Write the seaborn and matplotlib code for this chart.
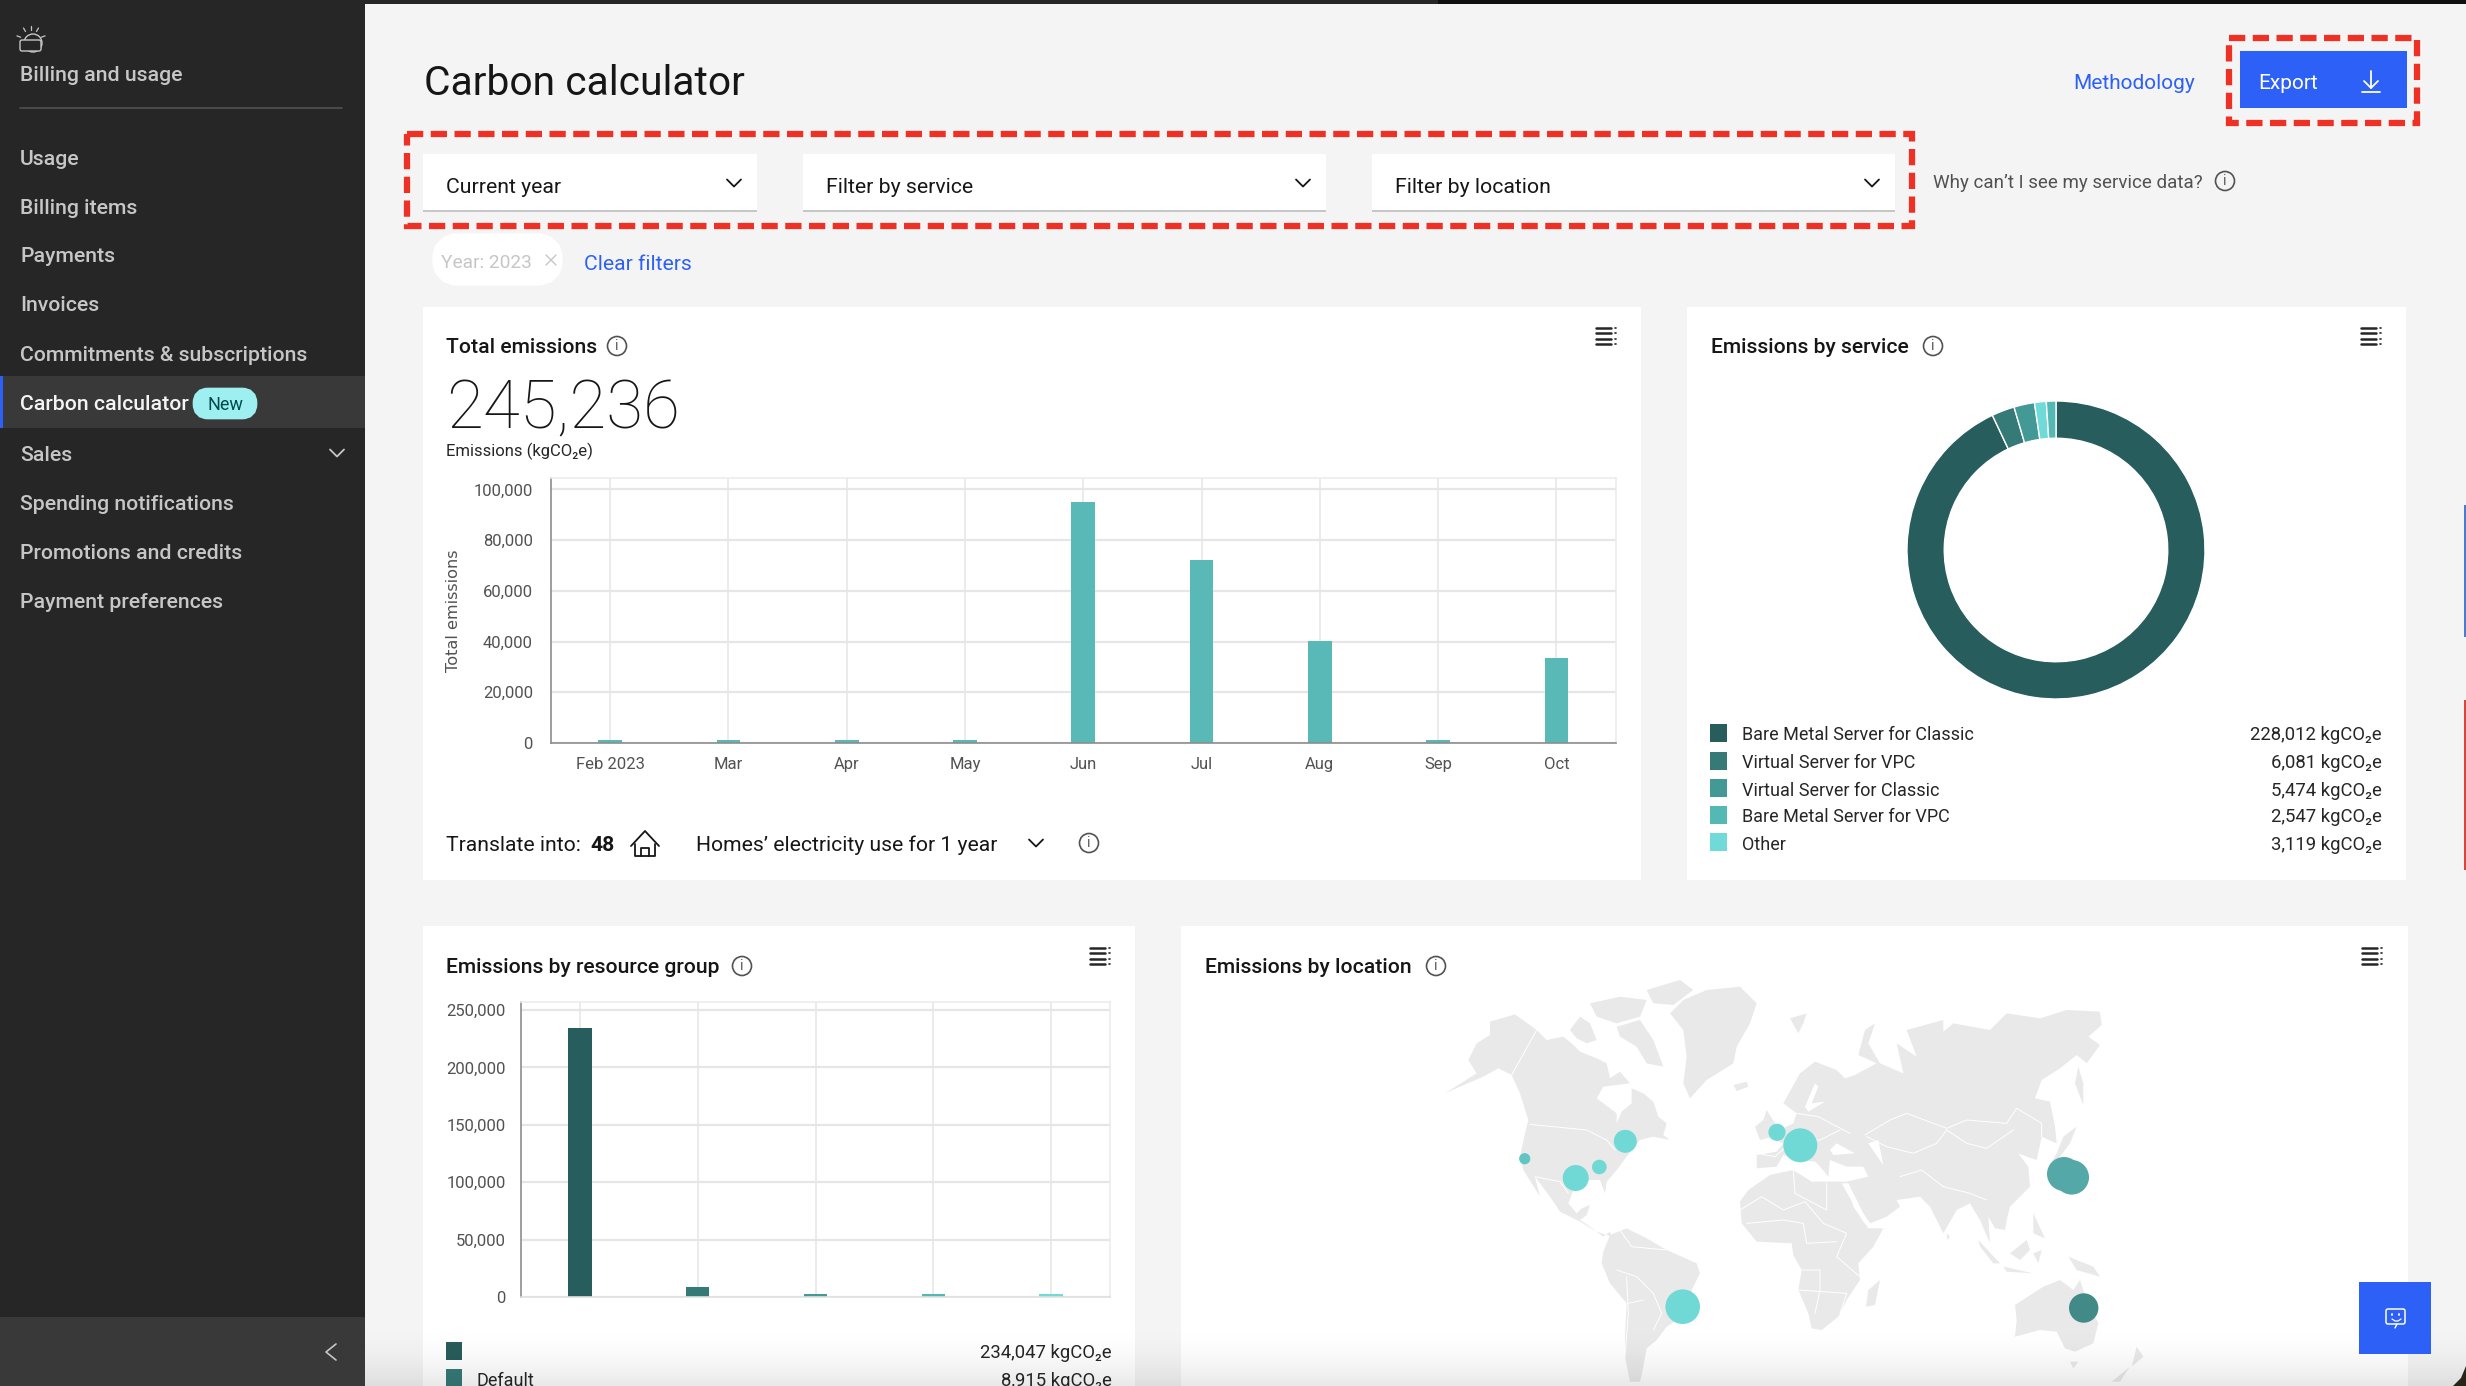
#!/usr/bin/env python
# -*- coding: UTF-8 -*-
# Carbon calculator dashboard screenshot
import numpy as np
import seaborn as sns
import matplotlib.pyplot as plt
from matplotlib.patches import Rectangle, Circle, Polygon, FancyBboxPatch

W, H = 2466, 1386

# ---- data ----
months = ['Feb 2023', 'Mar', 'Apr', 'May', 'Jun', 'Jul', 'Aug', 'Sep', 'Oct']
month_emissions = [1200, 1200, 1200, 1200, 95000, 72250, 40400, 1200, 33500]
month_ticks = [0, 20000, 40000, 60000, 80000, 100000]

services = ['Bare Metal Server for Classic', 'Virtual Server for VPC', 'Virtual Server for Classic',
            'Bare Metal Server for VPC', 'Other']
service_emissions = [228012, 6081, 5474, 2547, 3119]
# donut runs clockwise with Other before Bare Metal for VPC
donut_order = [0, 1, 2, 4, 3]

groups = ['', 'Default', 'group 3', 'group 4', 'group 5']
group_emissions = [234047, 8915, 2300, 2300, 2300]
group_ticks = [0, 50000, 100000, 150000, 200000, 250000]

sidebar_items = ['Usage', 'Billing items', 'Payments', 'Invoices', 'Commitments & subscriptions',
                 'Carbon calculator', 'Sales', 'Spending notifications', 'Promotions and credits',
                 'Payment preferences']
sidebar_y = [157, 206, 254, 303, 353, 402, 453, 502, 551, 600]

# locations: pixel position on the map image, bubble area, colour
loc_x = [1524.7, 1575.7, 1599.3, 1625.3, 1777, 1800.3, 1682.7, 2064, 2071.7, 2083.7]
loc_y = [1158.7, 1178, 1167, 1141.3, 1132.3, 1145.3, 1306.7, 1174, 1177.3, 1308]
loc_r = [5.6, 13, 7.3, 11.5, 8.6, 17, 17.3, 17, 17.3, 14.7]
loc_color = ['#5fc6c3', '#70d9d6', '#70d9d6', '#70d9d6', '#70d9d6', '#70d9d6', '#70d9d6',
             '#54a9a8', '#54a9a8', '#418a88']

# map outlines, 3x crop coordinates
land_west = [
    [(85, 240), (110, 190), (150, 165), (150, 125), (225, 103), (290, 150), (320, 180), (370, 170), (395, 190),
     (420, 215), (470, 235), (500, 250), (510, 295), (540, 275), (570, 310), (490, 320), (470, 355), (530, 400),
     (530, 430), (545, 395), (575, 370), (575, 325), (610, 340), (640, 365), (655, 410), (680, 430), (670, 465),
     (690, 480), (640, 470), (600, 480), (560, 530), (530, 570), (500, 605), (495, 640), (480, 600), (450, 600),
     (400, 630), (385, 670), (410, 700), (425, 685), (450, 675), (440, 705), (420, 720), (450, 740), (490, 770),
     (510, 755), (515, 770), (470, 755), (420, 725), (360, 695), (330, 650), (285, 590), (300, 650), (250, 570),
     (240, 530), (255, 460), (265, 420), (240, 340), (215, 285), (175, 265), (130, 290), (60, 320), (15, 340),
     (110, 280)],
    [(390, 150), (420, 110), (450, 130), (470, 180), (440, 190), (410, 175)],
    [(450, 70), (540, 50), (620, 60), (600, 110), (530, 130), (470, 110)],
    [(620, 30), (720, 0), (760, 30), (700, 75), (640, 70)],
    [(530, 140), (600, 120), (640, 180), (670, 260), (620, 250), (590, 200), (540, 170)],
    [(690, 100), (730, 60), (800, 30), (900, 20), (950, 70), (930, 130), (890, 200), (880, 250), (800, 300),
     (750, 355), (730, 310), (740, 230), (730, 150)],
    [(880, 315), (920, 305), (925, 320), (890, 333)],
    [(1050, 115), (1100, 100), (1090, 130), (1075, 160)],
    [(510, 765), (560, 745), (620, 775), (680, 810), (770, 850), (780, 880), (755, 930), (745, 1000), (680, 1040),
     (650, 1080), (620, 1105), (610, 1160), (600, 1205), (570, 1205), (555, 1130), (555, 1060), (560, 970),
     (510, 910), (485, 850), (490, 815)],
    [(945, 440), (970, 420), (980, 390), (1005, 430), (1000, 470), (960, 480)],
]
land_east = [
    [(50, 565), (50, 525), (110, 515), (130, 490), (105, 480), (120, 450), (160, 430), (170, 400), (130, 370),
     (180, 280), (225, 245), (290, 270), (315, 295), (345, 285), (410, 250), (355, 225), (375, 150), (405, 130),
     (385, 190), (420, 250), (490, 280), (470, 190), (530, 230), (500, 150), (610, 120), (610, 155), (640, 130),
     (750, 150), (800, 100), (900, 115), (980, 90), (1080, 95), (1085, 135), (1045, 170), (1080, 195), (1040, 250),
     (1010, 225), (960, 265), (905, 300), (885, 355), (930, 365), (945, 440), (950, 490), (905, 470), (890, 540),
     (860, 530), (835, 520), (865, 560), (870, 620), (810, 680), (800, 720), (795, 750), (765, 745), (745, 710),
     (750, 790), (720, 720), (690, 670), (650, 690), (610, 760), (570, 680), (540, 650), (470, 660), (480, 680),
     (440, 710), (390, 730), (330, 640), (320, 605), (385, 590), (370, 560), (320, 560), (270, 540), (265, 590),
     (240, 560), (225, 545), (175, 540), (130, 525), (110, 560)],
    [(0, 665), (25, 630), (90, 585), (160, 570), (215, 605), (320, 605), (340, 680), (385, 745), (430, 745),
     (400, 800), (355, 850), (360, 900), (320, 960), (295, 1010), (245, 1050), (215, 1045), (205, 1000), (175, 930),
     (185, 870), (160, 825), (155, 790), (50, 785), (5, 730)],
    [(378, 980), (385, 930), (420, 900), (405, 975)],
    [(620, 760), (630, 770), (622, 780)],
    [(970, 470), (1010, 440), (990, 490), (960, 530), (925, 560), (950, 520)],
    [(1015, 260), (1030, 310), (1030, 375), (1005, 310)],
    [(715, 780), (780, 850), (760, 850), (720, 800)],
    [(790, 860), (880, 880), (800, 875)],
    [(810, 820), (860, 780), (870, 810), (840, 840)],
    [(880, 700), (915, 775), (880, 760)],
    [(985, 830), (1060, 860), (1080, 890), (1010, 870)],
    [(880, 820), (905, 810), (895, 850)],
    [(825, 975), (910, 920), (960, 900), (1000, 930), (1020, 900), (1040, 960), (1075, 1030), (1060, 1090),
     (1005, 1115), (975, 1105), (950, 1055), (900, 1050), (825, 1070), (830, 1020)],
    [(990, 1145), (1015, 1145), (1000, 1165)],
    [(1190, 1100), (1210, 1130), (1175, 1160)],
    [(1170, 1160), (1140, 1205), (1115, 1205)],
]
water_east = [
    [(195, 380), (225, 310), (235, 320), (215, 370), (255, 365), (205, 395)],
    [(270, 510), (290, 490), (345, 520), (280, 525)],
    [(385, 490), (415, 480), (430, 555), (405, 520)],
    [(305, 610), (325, 610), (385, 730), (370, 725)],
]
borders_west = [
    [(270, 433), (440, 450), (500, 480), (525, 510)],
    [(290, 150), (215, 285)],
    [(285, 590), (360, 605), (385, 640)],
    [(560, 890), (565, 1000), (555, 1130)],
    [(530, 870), (590, 890), (640, 940), (665, 1000), (640, 1050)],
    [(610, 960), (565, 970)],
    [(540, 750), (575, 800), (680, 810)],
]
borders_east = [
    [(375, 465), (450, 420), (500, 400), (620, 445), (680, 420), (800, 430), (830, 385), (905, 430), (905, 470)],
    [(620, 450), (680, 490), (740, 505), (820, 450)],
    [(380, 470), (440, 500), (520, 520), (590, 490), (620, 450)],
    [(480, 590), (545, 570), (610, 620), (690, 640), (740, 660)],
    [(160, 570), (165, 640), (260, 690), (260, 610)],
    [(0, 690), (65, 650), (130, 690), (195, 665), (250, 730), (320, 760), (290, 830), (360, 890)],
    [(20, 730), (130, 720), (190, 730), (200, 790), (290, 785)],
    [(175, 930), (320, 940), (300, 1000)],
    [(185, 870), (240, 870), (240, 930), (225, 1000)],
    [(50, 520), (105, 530), (160, 480), (240, 480), (300, 450)],
    [(170, 400), (235, 410), (330, 460)],
]

# ---- colours ----
palette = ['#275d5c', '#367a78', '#429996', '#54b8b5', '#6fdad7']
bar_teal = '#58b9b6'
blue = '#2c60f6'
red = '#ee3124'
dark = '#161616'
gray = '#525252'
card = '#ffffff'

sns.set_theme(style='whitegrid')
plt.rcParams['font.family'] = ['Roboto', 'DejaVu Sans']

fig = plt.figure(figsize=(W / 100, H / 100), dpi=100, facecolor='#f4f4f4')

# background axes in screen pixels, all the page furniture goes here
ui = fig.add_axes([0, 0, 1, 1], zorder=0)
ui.set_xlim(0, W)
ui.set_ylim(H, 0)
ui.axis('off')


def box(x0, y0, x1, y1, color, **kw):
    ui.add_patch(Rectangle((x0, y0), x1 - x0, y1 - y0, facecolor=color, edgecolor='none', **kw))


def put(x, y, s, size=15.2, color=dark, ha='left', weight=400, **kw):
    # y is the visual middle of the line, Roboto sits a little high with va=center
    return ui.text(x, y + 2.5, s, fontsize=size, color=color, ha=ha, va='center', fontweight=weight, **kw)


def line(xs, ys, color=dark, lw=1.3, **kw):
    ui.plot(xs, ys, color=color, lw=lw, solid_capstyle='round', **kw)


def chevron(x, y, color=dark, s=7):
    line([x - s, x, x + s], [y - s / 2, y + s / 2, y - s / 2], color=color)


def info(x, y):
    ui.add_patch(Circle((x, y), 9.5, facecolor='none', edgecolor=gray, lw=1.2))
    put(x, y - 2.5, 'i', size=10, color=gray, ha='center')


def menu(x, y):
    for dy in [-8, -3, 3, 8]:
        line([x - 10, x + 5], [y + dy, y + dy], color='#262626', lw=1.8)
        line([x + 9, x + 10], [y + dy, y + dy], color='#262626', lw=1.2)


def px_axes(x0, y0, x1, y1, zorder=2):
    return fig.add_axes([x0 / W, 1 - y1 / H, (x1 - x0) / W, (y1 - y0) / H], zorder=zorder)


def style_bars(ax, ticks, tick_font=12):
    ax.set_facecolor('none')
    ax.set_axisbelow(True)
    ax.grid(True, axis='y', color='#e6e6e6', lw=1.6)
    ax.grid(True, axis='x', color='#e6e6e6', lw=1.1)
    ax.set_yticks(ticks)
    ax.set_yticklabels([f'{t:,}' for t in ticks])
    ax.tick_params(axis='both', length=0, labelsize=tick_font, labelcolor=gray, pad=10)
    ax.set_xlabel('')
    ax.set_ylabel('')
    for side in ['top', 'right']:
        ax.spines[side].set_color('#ececec')
        ax.spines[side].set_linewidth(1.2)
    for side in ['left', 'bottom']:
        ax.spines[side].set_color('#8d8d8d')
        ax.spines[side].set_linewidth(1.2)


# ---- sidebar ----
box(0, 0, 365, H, '#262626')
box(0, 376, 365, 428, '#393939')
box(0, 376, 3, 428, blue)
box(0, 1317, 365, H, '#393939')
box(0, 0, 1438, 4, '#262626')
box(1438, 0, W, 4, '#0f0f0f')
line([20, 342], [108, 108], color='#525252', lw=1.2)

# weather icon
ui.add_patch(Circle((33, 43), 9, facecolor='none', edgecolor='#c6c6c6', lw=1))
ui.add_patch(FancyBboxPatch((22, 42), 17, 7, boxstyle='round,pad=2', facecolor='#262626', edgecolor='#c6c6c6', lw=1))
for ang in np.radians([200, 240, 270, 300, 340]):
    line([31 + 11 * np.cos(ang), 31 + 15 * np.cos(ang)], [41 + 11 * np.sin(ang), 41 + 15 * np.sin(ang)],
         color='#c6c6c6', lw=0.9)

put(20, 73, 'Billing and usage', size=15.3, color='#c6c6c6', weight=500)
for label, y in zip(sidebar_items, sidebar_y):
    selected = label == 'Carbon calculator'
    put(20, y, label, size=15.3, color='#f4f4f4' if selected else '#c6c6c6', weight=500)
ui.add_patch(FancyBboxPatch((201, 396), 48, 15, boxstyle='round,pad=0,rounding_size=7', facecolor='#9ef0f0',
                            edgecolor='#9ef0f0', lw=12))
put(225, 402, 'New', size=13, color='#00494d', ha='center')
chevron(337, 453, color='#c6c6c6')
line([336, 326, 336], [1344, 1352, 1360], color='#c6c6c6', lw=1.2)

# ---- header ----
put(424, 81, 'Carbon calculator', size=29.3)
put(2073, 81, 'Methodology', size=15, color=blue)
box(2240, 51, 2407, 108, blue)
put(2258, 81, 'Export', size=15, color='white')
line([2371, 2371], [71, 88], color='white')
line([2364, 2371, 2378], [81, 88, 81], color='white')
line([2362, 2380], [92, 92], color='white')

# filters
for x0, x1, label in [(423, 757, 'Current year'), (803, 1326, 'Filter by service'), (1372, 1895, 'Filter by location')]:
    box(x0, 154, x1, 210, card)
    box(x0, 210, x1, 212, '#c6c6c6')
    put(x0 + 23, 185, label, size=15.3)
    chevron(x1 - 23, 183)
put(1933, 181, 'Why can\u2019t I see my service data?', size=13.5, color=gray)
info(2225, 181)
ui.add_patch(Rectangle((407, 134), 1505, 92, facecolor='none', edgecolor=red, lw=4.5, ls=(0, (2.6, 1.2))))
ui.add_patch(Rectangle((2229, 38), 188, 85, facecolor='none', edgecolor=red, lw=4.5, ls=(0, (2.6, 1.2))))

ui.add_patch(FancyBboxPatch((449, 250), 97, 19, boxstyle='round,pad=0,rounding_size=9', facecolor=card,
                            edgecolor=card, lw=24))
put(441, 260, 'Year: 2023', size=13.8, color='#c6c6c6')
line([546, 556], [255, 265], color='#c6c6c6', lw=1)
line([546, 556], [265, 255], color='#c6c6c6', lw=1)
put(584, 262, 'Clear filters', color=blue)

# ---- cards ----
box(423, 307, 1641, 880, card)
box(1687, 307, 2406, 880, card)
box(423, 926, 1135, H, card)
box(1181, 926, 2408, H, card)

for x, y, label, ix, mx in [(446, 345, 'Total emissions', 617, 1606), (1711, 345, 'Emissions by service', 1933, 2371),
                            (446, 965, 'Emissions by resource group', 742, 1100),
                            (1205, 965, 'Emissions by location', 1436, 2372)]:
    put(x, y, label, weight=500)
    info(ix, y + 1)
    menu(mx, y - 9)

# total emissions
put(446, 408, '245,236', size=48.4, weight=250)
put(446, 449, 'Emissions (kgCO\u2082e)', size=12, color='#262626')
put(446, 843, 'Translate into:')
put(590, 843, '48', weight=700)
line([631, 645, 659], [846, 831, 846], color=dark)
line([635, 635, 655, 655], [844, 856, 856, 844], color=dark)
line([641, 641, 649, 649], [856, 848, 848, 856], color=dark)
put(696, 843, 'Homes\u2019 electricity use for 1 year')
chevron(1036, 843)
info(1089, 843)

ax1 = px_axes(551, 478, 1615.5, 743)
sns.barplot(x=months, y=month_emissions, color=bar_teal, width=0.2, saturation=1, linewidth=0, ax=ax1)
ax1.set_xlim(-0.5, 8.5)
ax1.set_ylim(0, 104500)
style_bars(ax1, month_ticks)
ax1.tick_params(axis='y', pad=13)
ui.text(454, 611, 'Total emissions', rotation=90, fontsize=11.6, color=gray, ha='center', va='center',
        family='DejaVu Sans')

# emissions by service
ax2 = px_axes(1901, 395, 2211, 705)
ax2.pie([service_emissions[i] for i in donut_order], colors=[palette[i] for i in donut_order], startangle=90,
        counterclock=False, radius=1, wedgeprops={'width': 0.25, 'edgecolor': 'white', 'linewidth': 1})
ax2.set_xlim(-155 / 149, 155 / 149)
ax2.set_ylim(-155 / 149, 155 / 149)

for y, name, value, c in zip([733, 761, 788, 815, 842], services, service_emissions, palette):
    box(1710, y - 9, 1727, y + 9, c)
    put(1742, y, name, size=13, color='#262626')
    put(2382, y, f'{value:,} kgCO\u2082e', size=13.3, color='#262626', ha='right')

# emissions by resource group
ax3 = px_axes(521, 1002, 1110, 1297)
sns.barplot(x=groups, y=group_emissions, hue=groups, palette=palette, width=0.2, saturation=1, dodge=False,
            linewidth=0, legend=False, ax=ax3)
ax3.set_xlim(-0.5, 4.5)
ax3.set_ylim(0, 257000)
style_bars(ax3, group_ticks)
ax3.set_xticks(range(len(groups)))
ax3.set_xticklabels([])
ax3.spines['bottom'].set_color('#e0e0e0')
ax3.tick_params(axis='y', pad=11)

for y, name, value, c in zip([1351, 1378], groups, group_emissions, palette):
    box(446, y - 9, 462, y + 9, c)
    put(477, y, name, size=13, color='#262626')
    put(1112, y, f'{value:,} kgCO\u2082e', size=13.3, color='#262626', ha='right')

# world map
for polys, off in [(land_west, 1440), (land_east, 1740)]:
    for poly in polys:
        ui.add_patch(Polygon([(off + p[0] / 3, 980 + p[1] / 3) for p in poly], facecolor='#e9e9e9', edgecolor='none',
                             clip_on=True))
for poly in water_east:
    ui.add_patch(Polygon([(1740 + p[0] / 3, 980 + p[1] / 3) for p in poly], facecolor=card, edgecolor='none'))
for polys, off in [(borders_west, 1440), (borders_east, 1740)]:
    for poly in polys:
        line([off + p[0] / 3 for p in poly], [980 + p[1] / 3 for p in poly], color='white', lw=0.7)

map_ax = px_axes(0, 0, W, H, zorder=3)
map_ax.set_facecolor('none')
# bubble area in points^2 from the radius in pixels
loc_area = [(2 * r * 0.72) ** 2 for r in loc_r]
sns.scatterplot(x=loc_x, y=loc_y, hue=list(range(len(loc_x))), palette=loc_color, size=loc_area,
                sizes={a: a for a in loc_area}, linewidth=0, alpha=1, legend=False, ax=map_ax)
map_ax.set_xlim(0, W)
map_ax.set_ylim(H, 0)
map_ax.axis('off')

# ---- things floating over the page ----
top = fig.add_axes([0, 0, 1, 1], zorder=5)
top.set_xlim(0, W)
top.set_ylim(H, 0)
top.axis('off')
# fade at the bottom of the screenshot
fade = np.zeros((66, 1, 4))
fade[:, 0, 3] = np.linspace(0, 1, 66) ** 2 * 0.09
top.imshow(fade, extent=[365, W, H, 1320], aspect='auto', zorder=1)
top.set_xlim(0, W)
top.set_ylim(H, 0)

top.add_patch(Rectangle((2359, 1282), 72, 72, facecolor=blue, edgecolor='none', zorder=2))
top.add_patch(FancyBboxPatch((2386, 1309), 19, 15, boxstyle='round,pad=0,rounding_size=2', facecolor='none',
                             edgecolor='white', lw=1.1, zorder=3))
top.plot([2392, 2395, 2398, 2401], [1319, 1321, 1321, 1319], color='white', lw=0.9, zorder=3)
top.plot([2392, 2392], [1314, 1315], color='white', lw=1.3, zorder=3)
top.plot([2399, 2399], [1314, 1315], color='white', lw=1.3, zorder=3)
top.plot([2397, 2395], [1324, 1328], color='white', lw=1, zorder=3)

# slivers of the window at the screenshot edge
top.add_patch(Rectangle((2464, 505), 2, 132, facecolor='#4a7bd0', edgecolor='none', zorder=2))
top.add_patch(Rectangle((2464, 700), 2, 170, facecolor='#d9473c', edgecolor='none', zorder=2))
top.add_patch(Polygon([(W, 1366), (W, H), (2453, H), (2461, 1378)], facecolor='#2a2418', edgecolor='none', zorder=2))

fig.savefig('out.png', dpi=100, facecolor=fig.get_facecolor())
